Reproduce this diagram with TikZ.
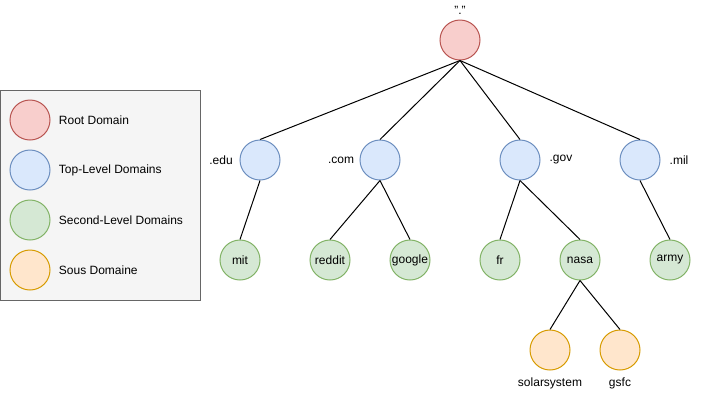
\documentclass[tikz,border=0pt]{standalone}
\usepackage{fontspec}
\setmainfont{Liberation Sans}
\usepackage{tikz}

\definecolor{rootfill}{HTML}{F8CECC}
\definecolor{rootline}{HTML}{B85450}
\definecolor{tldfill}{HTML}{DAE8FC}
\definecolor{tldline}{HTML}{6C8EBF}
\definecolor{sldfill}{HTML}{D5E8D4}
\definecolor{sldline}{HTML}{82B366}
\definecolor{sousfill}{HTML}{FFE6CC}
\definecolor{sousline}{HTML}{D79B00}
\definecolor{legfill}{HTML}{F5F5F5}
\definecolor{legline}{HTML}{666666}

\tikzset{
  dom/.style={circle, minimum size=30pt, inner sep=0pt, line width=0.75pt},
  rootdom/.style={dom, draw=rootline, fill=rootfill},
  tlddom/.style={dom, draw=tldline, fill=tldfill},
  slddom/.style={dom, draw=sldline, fill=sldfill},
  sousdom/.style={dom, draw=sousline, fill=sousfill},
}

\begin{document}
\begin{tikzpicture}[x=0.75pt, y=-0.75pt, font=\fontsize{9}{11}\selectfont, line width=0.75pt]
    \useasboundingbox (0,0) rectangle (701,401);
    % legend
    \draw[draw=legline, fill=legfill] (0.5,90.5) rectangle (200,300);
    \node[rootdom] (l0) at (30,120) {};
    \node[tlddom] (l1) at (30,170) {};
    \node[slddom] (l2) at (30,220) {};
    \node[sousdom] (l3) at (30,270) {};
    \node[anchor=west] (t0) at (54,120) {Root Domain};
    \node[anchor=west] (t1) at (54,170) {Top-Level Domains};
    \node[anchor=west] (t2) at (54,220) {Second-Level Domains};
    \node[anchor=west] (t3) at (54,270) {Sous Domaine};

    % tree
    \node[rootdom] (n0) at (460,40) {};
    \node (m0) at (460,10) {"."};
    \node[tlddom] (n1) at (260,160) {};
    \node[tlddom] (n2) at (380,160) {};
    \node[tlddom] (n3) at (520,160) {};
    \node[tlddom] (n4) at (640,160) {};
    \node (m1) at (221,160) {.edu};
    \node (m2) at (341,160) {.com};
    \node (m3) at (561,160) {.gov};
    \node (m4) at (679,160) {.mil};
    \node[slddom] (n5) at (240,260) {mit};
    \node[slddom] (n6) at (330,260) {reddit};
    \node[slddom] (n7) at (410,260) {google};
    \node[slddom] (n8) at (500,260) {fr};
    \node[slddom] (n9) at (580,260) {nasa};
    \node[slddom] (n10) at (670,260) {army};
    \node[sousdom] (n11) at (550,350) {};
    \node[sousdom] (n12) at (620,350) {};
    \node (m11) at (550,383) {solarsystem};
    \node (m12) at (620,383) {gsfc};

    \draw (n0.south) edge (n1.north) edge (n2.north) edge (n3.north) edge (n4.north);
    \draw (n1.south) edge (n5.north);
    \draw (n2.south) edge (n6.north) edge (n7.north);
    \draw (n3.south) edge (n8.north) edge (n9.north);
    \draw (n4.south) edge (n10.north);
    \draw (n9.south) edge (n11.north) edge (n12.north);
\end{tikzpicture}
\end{document}
